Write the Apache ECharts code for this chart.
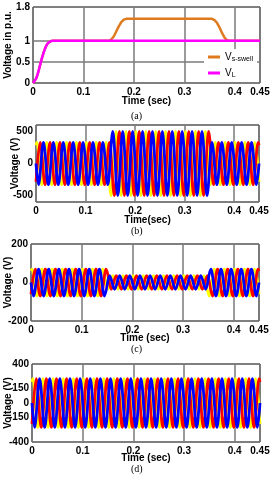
<!DOCTYPE html>
<html><head><meta charset="utf-8">
<script src="https://cdn.jsdelivr.net/npm/echarts@6/dist/echarts.min.js"></script>
<style>html,body{margin:0;padding:0;background:#fff}#c{width:273px;height:480px}</style>
</head><body><div id="c"></div>
<script>
// ---------- (a) per-unit voltages ----------
const aL_t = [0,0.003,0.006,0.009,0.012,0.015,0.018,0.021,0.024,0.027,0.03,0.033,0.036,0.04,0.45];
const aL_v = [0,0.03,0.1,0.2,0.33,0.47,0.6,0.72,0.82,0.9,0.95,0.98,0.995,1,1];
const aS_t = [0,0.003,0.006,0.009,0.012,0.015,0.018,0.021,0.024,0.027,0.03,0.033,0.036,0.04,0.15,0.155,0.16,0.165,0.17,0.175,0.18,0.185,0.355,0.36,0.365,0.37,0.375,0.38,0.385,0.39,0.45];
const aS_v = [0,0.03,0.1,0.2,0.33,0.47,0.6,0.72,0.82,0.9,0.95,0.98,0.995,1,1,1.03,1.1,1.22,1.34,1.44,1.5,1.52,1.52,1.49,1.42,1.31,1.18,1.07,1.01,1,1];

// ---------- extremum instants of each phase (s) ----------
const blueT = [0,
 0.005,0.015,0.025,0.035,0.045,0.055,0.065,0.075,0.085,0.095,0.105,0.115,0.125,0.135,0.145,
 0.155,0.165,0.175,0.185,0.195,0.205,0.215,0.225,0.235,0.245,0.255,0.265,0.275,0.285,0.295,0.305,0.315,0.325,0.335,0.345,
 0.355,0.365,0.375,0.385,0.395,0.405,0.415,0.425,0.435,0.445,
 0.45];
const yellowT = [0,
 0.0017,0.0117,0.0217,0.0317,0.0417,0.0517,0.0617,0.0717,0.0817,0.0917,0.1017,0.1117,0.1217,0.1317,0.1417,
 0.1517,0.1617,0.1717,0.1817,0.1917,0.2017,0.2117,0.2217,0.2317,0.2417,0.2517,0.2617,0.2717,0.2817,0.2917,0.3017,0.3117,0.3217,0.3317,0.3417,
 0.3517,0.3617,0.3717,0.3817,0.3917,0.4017,0.4117,0.4217,0.4317,0.4417,
 0.45];
const redT = [0,
 0.0083,0.0183,0.0283,0.0383,0.0483,0.0583,0.0683,0.0783,0.0883,0.0983,0.1083,0.1183,0.1283,0.1383,0.1483,
 0.1583,0.1683,0.1783,0.1883,0.1983,0.2083,0.2183,0.2283,0.2383,0.2483,0.2583,0.2683,0.2783,0.2883,0.2983,0.3083,0.3183,0.3283,0.3383,0.3483,
 0.3583,0.3683,0.3783,0.3883,0.3983,0.4083,0.4183,0.4283,0.4383,0.4483,
 0.45];

// ---------- (b) source voltage (V) ----------
const bBlue = [0,
 -330,330,-330,330,-330,330,-330,330,-330,330,-330,330,-330,330,-330,
 500,-500,500,-500,500,-500,500,-500,500,-500,500,-500,500,-500,500,-500,500,-500,500,-500,
 330,-330,330,-330,330,-330,330,-330,330,-330,
 0];
const bYellow = [285,
 330,-330,330,-330,330,-330,330,-330,330,-330,330,-330,330,-330,330,
 -500,500,-500,500,-500,500,-500,500,-500,500,-500,500,-500,500,-500,500,-500,500,-500,500,
 -330,330,-330,330,-330,330,-330,330,-330,330,
 -285];
const bRed = [-285,
 330,-330,330,-330,330,-330,330,-330,330,-330,330,-330,330,-330,330,
 -500,500,-500,500,-500,500,-500,500,-500,500,-500,500,-500,500,-500,500,-500,500,-500,500,
 -330,330,-330,330,-330,330,-330,330,-330,330,
 285];

// ---------- (c) (V) ----------
const cBlue = [0,
 -70,70,-70,70,-70,70,-70,70,-70,70,-70,70,-70,70,-70,
 35,-35,35,-35,35,-35,35,-35,35,-35,35,-35,35,-35,35,-35,35,-35,35,-35,
 70,-70,70,-70,70,-70,70,-70,70,-70,
 0];
const cYellow = [60,
 70,-70,70,-70,70,-70,70,-70,70,-70,70,-70,70,-70,70,
 -35,35,-35,35,-35,35,-35,35,-35,35,-35,35,-35,35,-35,35,-35,35,-35,35,
 -70,70,-70,70,-70,70,-70,70,-70,70,
 -60];
const cRed = [-60,
 70,-70,70,-70,70,-70,70,-70,70,-70,70,-70,70,-70,70,
 -35,35,-35,35,-35,35,-35,35,-35,35,-35,35,-35,35,-35,35,-35,35,-35,35,
 -70,70,-70,70,-70,70,-70,70,-70,70,
 60];

// ---------- (d) load voltage (V) ----------
const dBlue = [0,
 -250,250,-250,250,-250,250,-250,250,-250,250,-250,250,-250,250,-250,
 250,-250,250,-250,250,-250,250,-250,250,-250,250,-250,250,-250,250,-250,250,-250,250,-250,
 250,-250,250,-250,250,-250,250,-250,250,-250,
 0];
const dYellow = [215,
 250,-250,250,-250,250,-250,250,-250,250,-250,250,-250,250,-250,250,
 -250,250,-250,250,-250,250,-250,250,-250,250,-250,250,-250,250,-250,250,-250,250,-250,250,
 -250,250,-250,250,-250,250,-250,250,-250,250,
 -215];
const dRed = [-215,
 250,-250,250,-250,250,-250,250,-250,250,-250,250,-250,250,-250,250,
 -250,250,-250,250,-250,250,-250,250,-250,250,-250,250,-250,250,-250,250,-250,250,-250,250,
 -250,250,-250,250,-250,250,-250,250,-250,250,
 215];

// ---------- tick labels ----------
const xTicks = [0,0.1,0.2,0.3,0.4,0.45];
const aYTicks = [0,0.5,1,1.8];
const bYTicks = [-500,0,500];
const cYTicks = [-200,0,200];
const dYTicks = [-400,-150,0,150,400];

const pair = (t, v) => t.map((x, i) => [x, v[i]]);
const FONT = 'Liberation Sans';
const GRIDCOL = '#7a7a7a';

// horizontal grid lines at the inner y tick values (placed by the y axis scale)
function yGrid(ticks) {
  return {
    z: 1, symbol: 'none', silent: true,
    label: {show: false},
    lineStyle: {color: GRIDCOL, width: 1.5, type: 'solid'},
    data: ticks.slice(1, ticks.length - 1).map(v => ({yAxis: v}))
  };
}

function xAx(gi, name, gap) {
  return {
    type: 'value', gridIndex: gi, min: 0, max: 0.45, interval: 0.1,
    axisLine: {show: false},
    axisTick: {show: false},
    axisLabel: {customValues: xTicks, color: '#000', fontWeight: 'bold', fontSize: 10, fontFamily: FONT, margin: 4},
    splitLine: {show: true, lineStyle: {color: GRIDCOL, width: 1.5}},
    name: name, nameLocation: 'middle', nameGap: gap, nameMoveOverlap: false,
    nameTextStyle: {color: '#000', fontWeight: 'bold', fontSize: 10, fontFamily: FONT}
  };
}
function yAx(gi, min, max, ticks, name, gap) {
  return {
    type: 'value', gridIndex: gi, min: min, max: max,
    axisLine: {show: false},
    axisTick: {show: false},
    axisLabel: {customValues: ticks, color: '#000', fontWeight: 'bold', fontSize: 10, fontFamily: FONT, margin: 3},
    splitLine: {show: false},
    name: name, nameLocation: 'middle', nameGap: gap, nameMoveOverlap: false,
    nameTextStyle: {color: '#000', fontWeight: 'bold', fontSize: 10, fontFamily: FONT}
  };
}
function wave(gi, name, t, v, color, ticks) {
  const s = {type: 'line', name: name, xAxisIndex: gi, yAxisIndex: gi, data: pair(t, v),
    showSymbol: false, symbol: 'none', smooth: 0.36, smoothMonotone: 'x',
    lineStyle: {color: color, width: 2.8}, itemStyle: {color: color}};
  if (ticks) s.markLine = yGrid(ticks);
  return s;
}
const gridBase = {show: true, borderColor: '#000', borderWidth: 1, outerBoundsMode: 'none'};

const option = {
  animation: false,
  grid: [
    Object.assign({left: 33, top: 7, width: 227, height: 76}, gridBase),
    Object.assign({left: 36, top: 125, width: 223, height: 77}, gridBase),
    Object.assign({left: 31, top: 244, width: 228, height: 77}, gridBase),
    Object.assign({left: 32, top: 364, width: 228, height: 78}, gridBase)
  ],
  xAxis: [xAx(0, 'Time (sec)', 13), xAx(1, 'Time(sec)', 13), xAx(2, 'Time (sec)', 12), xAx(3, 'Time (sec)', 11)],
  yAxis: [
    yAx(0, 0, 1.8, aYTicks, 'Voltage in p.u.', 20),
    yAx(1, -600, 600, bYTicks, 'Voltage (V)', 16),
    yAx(2, -200, 200, cYTicks, 'Voltage (V)', 18),
    yAx(3, -400, 400, dYTicks, 'Voltage (V)', 19)
  ],
  legend: {
    data: ['Vs-swell', 'VL'], orient: 'vertical', left: 204, top: 49, icon: 'rect', z: 10,
    backgroundColor: '#fff', padding: [3, 4], itemGap: 5, itemWidth: 12, itemHeight: 3,
    formatter: n => n === 'Vs-swell' ? 'V{s|s-swell}' : 'V{s|L}',
    textStyle: {color: '#000', fontSize: 10, fontFamily: FONT,
      rich: {s: {fontSize: 7, fontFamily: FONT, color: '#000', padding: [5, 0, 0, 0]}}}
  },
  graphic: [
    {type: 'text', left: 131, top: 111, style: {text: '(a)', font: '10px "Liberation Serif"', fill: '#000'}},
    {type: 'text', left: 131, top: 226, style: {text: '(b)', font: '10px "Liberation Serif"', fill: '#000'}},
    {type: 'text', left: 131, top: 344, style: {text: '(c)', font: '10px "Liberation Serif"', fill: '#000'}},
    {type: 'text', left: 131, top: 464, style: {text: '(d)', font: '10px "Liberation Serif"', fill: '#000'}}
  ],
  series: [
    {type: 'line', name: 'Vs-swell', xAxisIndex: 0, yAxisIndex: 0, data: pair(aS_t, aS_v), showSymbol: false, symbol: 'none',
     lineStyle: {color: '#e07a1f', width: 2.5}, itemStyle: {color: '#e07a1f'}, markLine: yGrid(aYTicks)},
    {type: 'line', name: 'VL', xAxisIndex: 0, yAxisIndex: 0, data: pair(aL_t, aL_v), showSymbol: false, symbol: 'none',
     lineStyle: {color: '#ff00ff', width: 2.5}, itemStyle: {color: '#ff00ff'}},
    wave(1, 'b-yellow', yellowT, bYellow, '#ffff00', bYTicks),
    wave(1, 'b-red', redT, bRed, '#ff0000'),
    wave(1, 'b-blue', blueT, bBlue, '#0000ff'),
    wave(2, 'c-yellow', yellowT, cYellow, '#ffff00', cYTicks),
    wave(2, 'c-red', redT, cRed, '#ff0000'),
    wave(2, 'c-blue', blueT, cBlue, '#0000ff'),
    wave(3, 'd-yellow', yellowT, dYellow, '#ffff00', dYTicks),
    wave(3, 'd-red', redT, dRed, '#ff0000'),
    wave(3, 'd-blue', blueT, dBlue, '#0000ff')
  ]
};
echarts.init(document.getElementById('c')).setOption(option);
</script>
</body></html>
